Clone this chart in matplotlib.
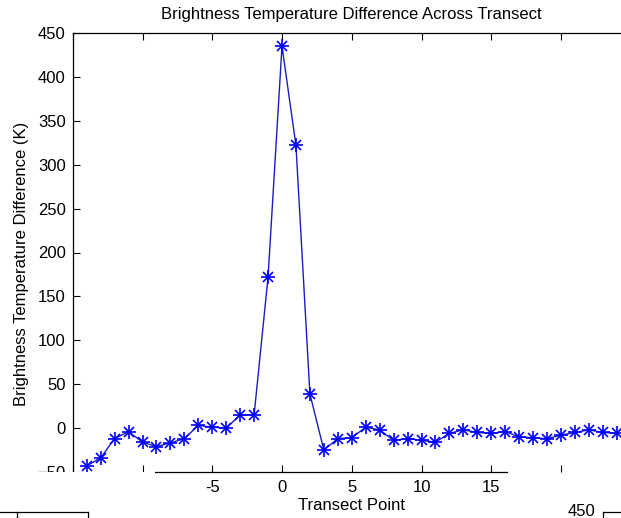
import matplotlib.pyplot as plt
from matplotlib.lines import Line2D
from matplotlib.patches import Rectangle

plt.rcParams['font.family'] = ['Liberation Sans', 'DejaVu Sans']

# ======= Data =======
transect_point = list(range(-14, 25))
bt_diff = [-43, -34, -12, -4, -16, -21, -17, -12, 3, 1, 0, 15, 15,
           172, 435, 322, 39, -25, -12, -11, 1, -2, -14, -12, -14, -16,
           -6, -2, -5, -6, -4, -10, -11, -12, -8, -5, -2, -5, -6]
x_ticks = [-15, -10, -5, 0, 5, 10, 15, 20, 25]
x_tick_labels = ['', '', '-5', '0', '5', '10', '15', '', '']
y_ticks = list(range(-50, 451, 50))

FS = 12

# ======= Figure and axes =======
W, H = 621, 518
fig = plt.figure(figsize=(W / 100, H / 100), dpi=100)
ax = fig.add_axes([72.75 / W, (H - 472) / H, 558 / W, 439 / H])

# line, then matlab-style asterisk markers (+ over x)
ax.plot(transect_point, bt_diff, '-', color='#1c1cc0', linewidth=1.0)
ax.plot(transect_point, bt_diff, linestyle='none', marker='+',
        markersize=9.5, markeredgewidth=1.2, color='blue')
ax.plot(transect_point, bt_diff, linestyle='none', marker='x',
        markersize=6.5, markeredgewidth=1.2, color='blue')

ax.set_xlim(-15, 25)
ax.set_ylim(-50, 450)
ax.set_xticks(x_ticks)
ax.set_xticklabels(x_tick_labels)
ax.set_yticks(y_ticks)
ax.tick_params(direction='in', length=5, labelsize=FS, top=True,
               colors='black', pad=5)
ax.tick_params(axis='x', pad=6)
for s in ax.spines.values():
    s.set_linewidth(0.9)
ax.spines['bottom'].set_bounds(-9.1, 16.1)

ax.set_title('Brightness Temperature Difference Across Transect',
             fontsize=FS, pad=10)
ax.set_xlabel('Transect Point', fontsize=FS, labelpad=2)
ax.set_ylabel('Brightness Temperature Difference (K)', fontsize=FS)
ax.yaxis.set_label_coords(-0.078, 0.475)

# ======= Overlapping window fragments =======
fig.patches.append(Rectangle((0, 0), 155 / W, (H - 471.5) / H,
                             transform=fig.transFigure, facecolor='white',
                             edgecolor='none', zorder=5))
lk = dict(transform=fig.transFigure, color='black', linewidth=0.9, zorder=6)
fig.lines.append(Line2D([0, 88 / W], [(H - 512) / H] * 2, **lk))
fig.lines.append(Line2D([17 / W] * 2, [0, (H - 512) / H], **lk))
fig.lines.append(Line2D([88 / W] * 2, [0, (H - 512) / H], **lk))
fig.lines.append(Line2D([603 / W, 1], [(H - 512) / H] * 2, **lk))
fig.lines.append(Line2D([603 / W] * 2, [0, (H - 512) / H], **lk))
fig.text(595 / W, (H - 511) / H, '450', fontsize=FS, ha='right',
         va='center', zorder=6)

fig.savefig('out.png', dpi=100)
